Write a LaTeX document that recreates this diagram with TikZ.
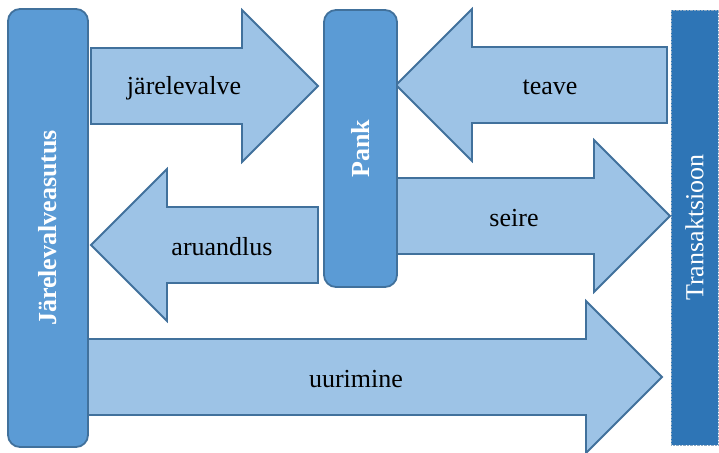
\documentclass[tikz,border=0pt]{standalone}
\usepackage{xcolor}
\usepackage{fontspec}
\setmainfont{Liberation Serif}
\usepackage{tikz}

\definecolor{boxblue}{HTML}{5B9BD5}
\definecolor{edgeblue}{HTML}{41719C}
\definecolor{flowblue}{HTML}{9DC3E6}
\definecolor{darkblue}{HTML}{2E75B6}

\tikzset{
  block/.style={draw=edgeblue, fill=boxblue, line width=1.8pt, rounded corners=12pt,
    text=white, font=\fontsize{26}{30}\bfseries\selectfont, rotate=90, inner sep=0pt},
  flow/.style={draw=edgeblue, fill=flowblue, line width=1.8pt, line join=miter},
}

% wide arrows: start/tip, tip/end, centre line
\newcommand{\flowright}[3]{\draw[flow] (#1,#3-38) -- (#2-76,#3-38) -- (#2-76,#3-76)
  -- (#2,#3) -- (#2-76,#3+76) -- (#2-76,#3+38) -- (#1,#3+38) -- cycle;}
\newcommand{\flowleft}[3]{\draw[flow] (#1,#3) -- (#1+76,#3-76) -- (#1+76,#3-38)
  -- (#2,#3-38) -- (#2,#3+38) -- (#1+76,#3+38) -- (#1+76,#3+76) -- cycle;}

\begin{document}
\begin{tikzpicture}[x=1pt, y=-1pt, font=\fontsize{26}{30}\selectfont]
        \useasboundingbox (0,0) rectangle (719,452);
%
        \flowright{91}{318}{86}
        \flowleft{396}{667}{85}
        \flowleft{91}{318}{245}
        \flowright{394}{670}{216}
        \flowright{88}{662}{377}
%
        \node[block, minimum width=438pt, minimum height=80pt] (jva) at (48,228) {Järelevalveasutus};
        \node[block, minimum width=277pt, minimum height=73pt] (pank) at (360.5,148.5) {Pank};
        \node[draw=edgeblue!60, densely dotted, fill=darkblue, text=white, rotate=90,
              minimum width=435pt, minimum height=47pt, inner sep=0pt] (tx) at (694.5,227.5) {Transaktsioon};
%
        \node (jv) at (184,88) {järelevalve};
        \node (te) at (550,87) {teave};
        \node (ar) at (222,247) {aruandlus};
        \node (se) at (514,218) {seire};
        \node (uu) at (356,379) {uurimine};
\end{tikzpicture}
\end{document}
